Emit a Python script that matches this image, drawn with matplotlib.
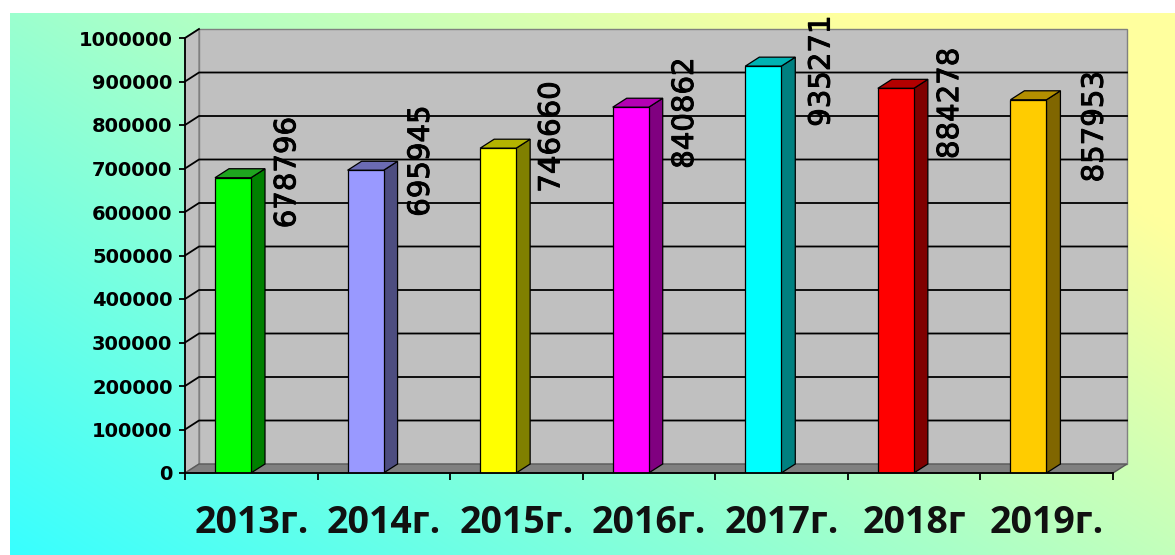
import numpy as np
import matplotlib
matplotlib.use("Agg")
import matplotlib.pyplot as plt
import matplotlib.patheffects as pe
from matplotlib.patches import Polygon, Rectangle

# data
years = ["2013г.", "2014г.", "2015г.", "2016г.", "2017г.", "2018г", "2019г."]
values = [678796, 695945, 746660, 840862, 935271, 884278, 857953]
front_colors = ["#00FF00", "#9999FF", "#FFFF00", "#FF00FF", "#00FFFF", "#FF0000", "#FFCC00"]
side_colors = ["#008000", "#4D4D80", "#808000", "#800080", "#008080", "#800000", "#806600"]
top_colors = ["#1FA51F", "#6B6BB3", "#B3B300", "#B300B3", "#00B3B3", "#B30000", "#B38F00"]

# manual nudges of the value labels (pixels)
lab_dx = [36, 37, 35, 36, 40, 36, 48]
lab_dy = [5, 9, 11, -6, -5, -15, -27]

W, H = 1175, 555
fig = plt.figure(figsize=(W / 100, H / 100), dpi=100)
fig.patch.set_facecolor("white")

# gradient background (cyan bottom-left -> yellow top-right)
bg = fig.add_axes([0, 0, 1, 1])
bg.set_xlim(0, W)
bg.set_ylim(H, 0)
bg.axis("off")
gx0, gy0 = 10, 13
xs = np.linspace(0, 1, 300)
ys = np.linspace(0, 1, 150)
X, Y = np.meshgrid(xs, ys)
t = np.clip(0.7 * X + 0.5 * (1 - Y), 0, 1)
c0 = np.array([0.22, 1.0, 1.0])
c1 = np.array([1.0, 1.0, 0.62])
img = c0[None, None, :] * (1 - t[..., None]) + c1[None, None, :] * t[..., None]
bg.imshow(img, extent=(gx0, W, H, gy0), aspect="auto", interpolation="bilinear")

# main axes = front plane of the 3D box
x0px, x1px, y0px, y1px = 185, 1113, 473, 38
ax = fig.add_axes([x0px / W, (H - y0px) / H, (x1px - x0px) / W, (y0px - y1px) / H])
ax.set_facecolor("none")
n = len(values)
ymax = 1000000
ax.set_xlim(0, n)
ax.set_ylim(0, ymax)

px_x = (x1px - x0px) / n
px_y = (y0px - y1px) / ymax
dx = 14 / px_x
dy = 9 / px_y

# walls and floor
ax.add_patch(Rectangle((dx, dy), n, ymax, facecolor="#C0C0C0", edgecolor="#808080",
                       lw=1, zorder=1, clip_on=False))
ax.add_patch(Polygon([(0, 0), (dx, dy), (dx, ymax + dy), (0, ymax)], closed=True,
                     facecolor="#C0C0C0", edgecolor="#808080", lw=1, zorder=1, clip_on=False))
for v in range(100000, ymax, 100000):
    ax.plot([0, dx, n + dx], [v, v + dy, v + dy], color="black", lw=1.3, zorder=2, clip_on=False)
ax.plot([0, dx], [ymax, ymax + dy], color="black", lw=1.3, zorder=2, clip_on=False)
ax.add_patch(Polygon([(0, 0), (n, 0), (n + dx, dy), (dx, dy)], closed=True,
                     facecolor="#808080", edgecolor="#5A5A5A", lw=1, zorder=2, clip_on=False))

# bars
bw = 36 / px_x
boff = 30 / px_x
for i, v in enumerate(values):
    xa = i + boff
    xb = xa + bw
    ax.add_patch(Polygon([(xb, 0), (xb + dx, dy), (xb + dx, v + dy), (xb, v)], closed=True,
                         facecolor=side_colors[i], edgecolor="black", lw=0.9, zorder=3))
    ax.add_patch(Polygon([(xa, v), (xa + dx, v + dy), (xb + dx, v + dy), (xb, v)], closed=True,
                         facecolor=top_colors[i], edgecolor="black", lw=0.9, zorder=3))
    ax.add_patch(Rectangle((xa, 0), bw, v, facecolor=front_colors[i], edgecolor="black",
                           lw=0.9, zorder=4))
    ax.text(i + 0.5 + lab_dx[i] / px_x, v + lab_dy[i] / px_y, str(v), rotation=90,
            ha="center", va="center", fontsize=21, family="DejaVu Sans", color="black",
            zorder=6, clip_on=False,
            path_effects=[pe.withStroke(linewidth=0.7, foreground="black")])

# axes lines and ticks
for s in ["top", "right"]:
    ax.spines[s].set_visible(False)
ax.spines["left"].set_linewidth(1.3)
ax.spines["bottom"].set_linewidth(1.3)
ax.spines["left"].set_zorder(5)
ax.spines["bottom"].set_zorder(5)

ax.set_yticks(range(0, ymax + 1, 100000))
ax.set_yticklabels([str(v) for v in range(0, ymax + 1, 100000)], fontsize=14,
                   fontweight="bold", family="DejaVu Sans")
ax.tick_params(axis="y", direction="out", length=4, width=1.3, pad=5, colors="black")

ax.set_xticks(range(0, n + 1))
ax.set_xticklabels([])
ax.set_xticks(np.arange(n) + 0.5, minor=True)
ax.set_xticklabels(years, minor=True, fontsize=27, fontweight="bold",
                   family=["Open Sans", "DejaVu Sans"], color="#111111")
ax.tick_params(axis="x", which="major", direction="out", length=5, width=1.3)
ax.tick_params(axis="x", which="minor", length=0, pad=22)

fig.savefig("out.png", dpi=100)
